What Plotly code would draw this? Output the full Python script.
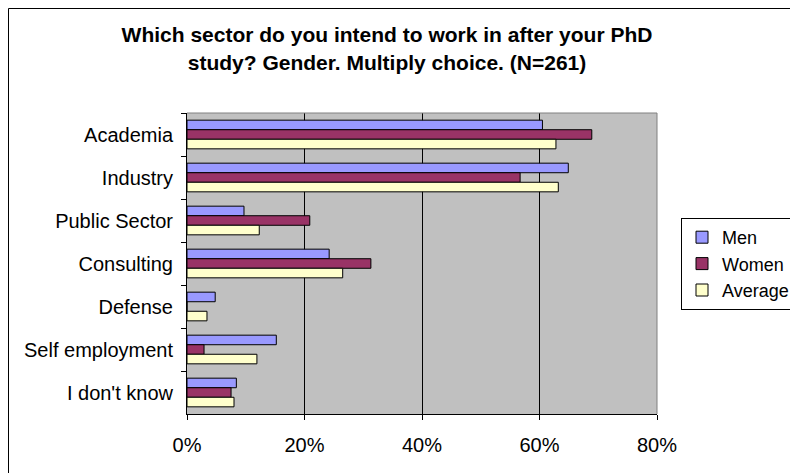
import plotly.graph_objects as go

# survey data, percent of respondents
sectors = ["Academia", "Industry", "Public Sector", "Consulting", "Defense",
           "Self employment", "I don't know"]
men = [60.5, 64.9, 9.7, 24.2, 4.8, 15.2, 8.4]
women = [68.9, 56.7, 20.9, 31.3, 0.0, 2.9, 7.5]
average = [62.8, 63.2, 12.3, 26.5, 3.4, 11.9, 8.0]

x_ticks = [0, 20, 40, 60, 80]
x_labels = ["0%", "20%", "40%", "60%", "80%"]

series = [("Men", men, "#9999FF"),
          ("Women", women, "#993366"),
          ("Average", average, "#FFFFCC")]

fig = go.Figure()
for name, vals, col in series:
    fig.add_trace(go.Bar(
        y=sectors, x=vals, name=name, orientation="h",
        marker=dict(color=col, line=dict(color="black", width=1)),
    ))

# page body has an 8px margin, so figure is 790x465
L, T = 179, 105
fig.update_layout(
    width=790, height=465,
    margin=dict(l=L, r=141, t=T, b=59, autoexpand=False),
    paper_bgcolor="white",
    plot_bgcolor="#C0C0C0",
    barmode="group",
    bargap=0.333,
    bargroupgap=0,
    font=dict(family="Liberation Sans, Arial", size=20, color="black"),
    title=dict(
        text="Which sector do you intend to work in after your PhD<br>study? Gender. Multiply choice. (N=261)",
        x=379 / 790, xanchor="center", y=0.926, yanchor="top",
        font=dict(family="Liberation Sans, Arial", size=21, color="black", weight="bold"),
    ),
    legend=dict(
        x=(681 - 187) / 470, xanchor="left",
        y=1 + (113 - 218) / 301, yanchor="top",
        bordercolor="black", borderwidth=1, bgcolor="white",
        traceorder="normal", itemwidth=30,
        font=dict(size=18),
    ),
    xaxis=dict(
        range=[0, 80], tickmode="array", tickvals=x_ticks, ticktext=x_labels,
        showgrid=True, gridcolor="black", gridwidth=1,
        showline=True, linecolor="black", linewidth=1,
        ticks="outside", ticklen=5, tickcolor="black",
        ticklabelstandoff=8,
        zeroline=False, automargin=False,
    ),
    yaxis=dict(
        autorange="reversed",
        showline=True, linecolor="black", linewidth=1,
        ticks="outside", ticklen=5, tickcolor="black", tickson="boundaries",
        ticklabelstandoff=9,
        showgrid=False, automargin=False,
    ),
    shapes=[
        # grey frame on top / right of plot area
        dict(type="line", xref="paper", yref="paper", x0=0, x1=1, y0=1, y1=1,
             line=dict(color="#808080", width=1)),
        dict(type="line", xref="paper", yref="paper", x0=1, x1=1, y0=0, y1=1,
             line=dict(color="#808080", width=1)),
        # outer chart border
        dict(type="rect", xref="paper", yref="paper",
             x0=(0.5 - L) / 470, x1=1.4, y0=-0.3, y1=1 + (T - 0.5) / 301,
             line=dict(color="black", width=1), layer="below"),
    ],
)

fig.write_html("out.html")
